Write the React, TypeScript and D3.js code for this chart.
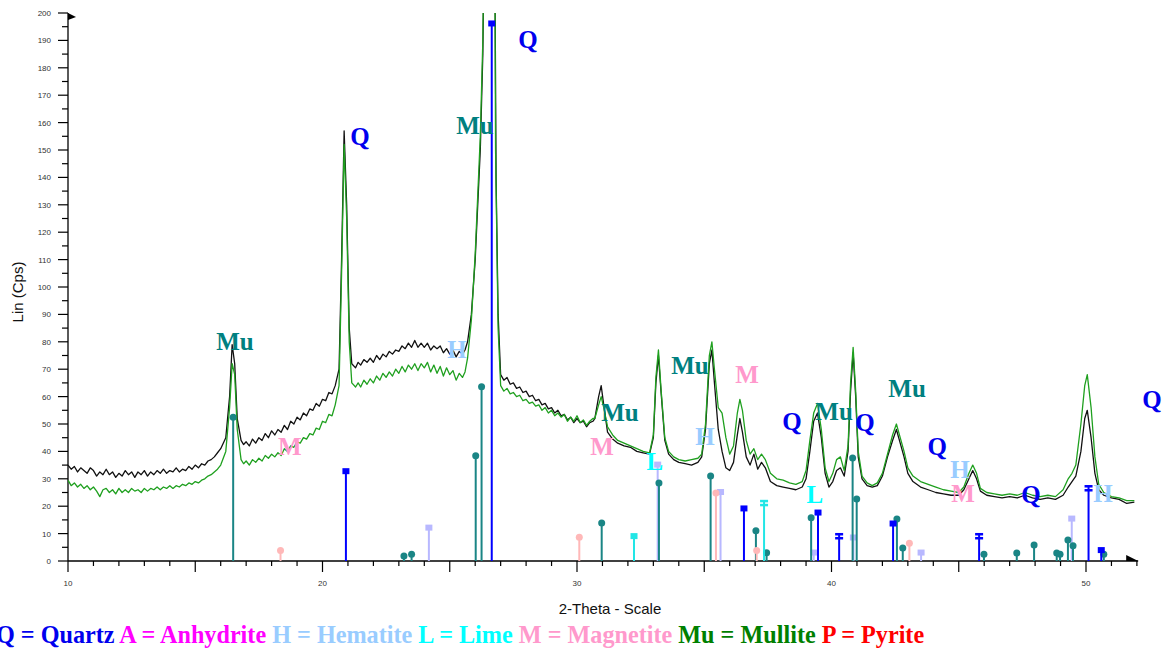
import * as React from "react"
import * as d3 from "d3"

// scan 1 (black) and scan 2 (green): [2-theta, counts]
const blackScan: [number, number][] = [
  [10.0, 35], [10.125, 33.5], [10.25, 34.5], [10.375, 32.5], [10.5, 34], [10.625, 33], [10.75, 32], [10.875, 34],
  [11.0, 33], [11.125, 31], [11.25, 32.5], [11.375, 31.5], [11.5, 33.5], [11.625, 31.5], [11.75, 32.5], [11.875, 30.5],
  [12.0, 32], [12.125, 31], [12.25, 33], [12.375, 31.5], [12.5, 32.5], [12.625, 30.5], [12.75, 32.5], [12.875, 31.5],
  [13.0, 33], [13.125, 31], [13.25, 32.5], [13.375, 31.5], [13.5, 33], [13.625, 32], [13.75, 33.5], [13.875, 32],
  [14.0, 33], [14.125, 32.5], [14.25, 34], [14.375, 32.5], [14.5, 33.5], [14.625, 33], [14.75, 34.5], [14.875, 33.5],
  [15.0, 35], [15.125, 34], [15.25, 35.5], [15.375, 35], [15.5, 36.5], [15.625, 37], [15.75, 38], [15.875, 39.5],
  [16.0, 41], [16.2, 45], [16.35, 60], [16.45, 79], [16.55, 72], [16.65, 52], [16.8, 44], [16.9, 42.5],
  [17.0, 43.5], [17.125, 42], [17.25, 44.5], [17.375, 43], [17.5, 45], [17.625, 44], [17.75, 46.5], [17.875, 45],
  [18.0, 47.5], [18.125, 46], [18.25, 48], [18.375, 47], [18.5, 49.5], [18.625, 48], [18.75, 51], [18.875, 50],
  [19.0, 52.5], [19.125, 51.5], [19.25, 54], [19.375, 53], [19.5, 55.5], [19.625, 55], [19.75, 57.5], [19.875, 56.5],
  [20.0, 59], [20.125, 58.5], [20.25, 61.5], [20.375, 61], [20.5, 64], [20.65, 70], [20.75, 110], [20.85, 157],
  [20.95, 130], [21.05, 85], [21.15, 72], [21.3, 70.5], [21.4, 72.5], [21.5, 71.5], [21.625, 73.5], [21.75, 72.5],
  [21.875, 74], [22.0, 72.5], [22.125, 75], [22.25, 73.5], [22.375, 75.5], [22.5, 74.5], [22.625, 76.5], [22.75, 75.5],
  [22.875, 77], [23.0, 76.5], [23.125, 78.5], [23.25, 77.5], [23.375, 79.5], [23.5, 78], [23.625, 80.5], [23.75, 78],
  [23.875, 79.5], [24.0, 78], [24.125, 79.5], [24.25, 77], [24.375, 78.5], [24.5, 77.5], [24.625, 78.5], [24.75, 76],
  [24.875, 77.5], [25.0, 75.5], [25.125, 77], [25.25, 74.5], [25.375, 76.5], [25.5, 75.5], [25.6, 77], [25.7, 80],
  [25.85, 90], [26.0, 110], [26.2, 150], [26.3, 185], [26.4, 260], [26.55, 420], [26.65, 500], [26.75, 260],
  [26.82, 140], [26.9, 90], [27.0, 68], [27.125, 66], [27.25, 67], [27.375, 64.5], [27.5, 65], [27.625, 63],
  [27.75, 63.5], [27.875, 61.5], [28.0, 62], [28.125, 60], [28.25, 60.5], [28.375, 58.5], [28.5, 59], [28.625, 57],
  [28.75, 57.5], [28.875, 55.5], [29.0, 56], [29.125, 54], [29.25, 55], [29.375, 53], [29.5, 53.5], [29.625, 51.5],
  [29.75, 52.5], [29.875, 50.5], [30.0, 52], [30.125, 50.5], [30.25, 51], [30.375, 49], [30.5, 50.5], [30.625, 51],
  [30.7, 52], [30.85, 60], [30.95, 64], [31.05, 57], [31.2, 47], [31.4, 44.5], [31.6, 43], [31.85, 42],
  [32.1, 41.5], [32.35, 40], [32.6, 39.5], [32.85, 39], [33.0, 45], [33.1, 65], [33.2, 75], [33.3, 62],
  [33.45, 44], [33.6, 39], [33.8, 37], [34.0, 36], [34.25, 35.5], [34.5, 35], [34.75, 36], [34.9, 38],
  [35.05, 48], [35.2, 72], [35.3, 77], [35.4, 65], [35.55, 48], [35.7, 40], [35.85, 34], [36.0, 33],
  [36.15, 36], [36.3, 46], [36.4, 52], [36.5, 47], [36.65, 38], [36.8, 35], [36.95, 39], [37.1, 33.5],
  [37.25, 36], [37.4, 34], [37.6, 29], [37.85, 27.5], [38.1, 27], [38.35, 26.5], [38.6, 26], [38.85, 27],
  [39.0, 30], [39.15, 40], [39.3, 51], [39.45, 54], [39.6, 45], [39.75, 32], [39.9, 27], [40.05, 29],
  [40.2, 33], [40.35, 34], [40.5, 31], [40.65, 40], [40.75, 62], [40.85, 76], [40.95, 60], [41.05, 38],
  [41.2, 30], [41.4, 27.5], [41.6, 27], [41.8, 27.5], [42.0, 31], [42.2, 38], [42.4, 44], [42.55, 48],
  [42.7, 43], [42.85, 38], [43.0, 32], [43.2, 29], [43.5, 27], [43.8, 26], [44.1, 25], [44.4, 24.5],
  [44.7, 24], [45.0, 24], [45.2, 26], [45.4, 30], [45.55, 33], [45.7, 30], [45.85, 25.5], [46.1, 24],
  [46.4, 23.5], [46.7, 23], [47.0, 23.5], [47.3, 23], [47.6, 24], [47.9, 23], [48.2, 22.5], [48.5, 23],
  [48.8, 22.5], [49.1, 24], [49.3, 27], [49.45, 29], [49.6, 31], [49.8, 40], [49.95, 52], [50.05, 55],
  [50.2, 45], [50.35, 32], [50.5, 26], [50.7, 24], [51.0, 23], [51.3, 22.5], [51.6, 21], [51.9, 21.5],
]

const greenScan: [number, number][] = [
  [10.0, 29.5], [10.125, 27.5], [10.25, 28.5], [10.375, 27], [10.5, 28], [10.625, 26.5], [10.75, 27.5], [10.875, 26],
  [11.0, 27], [11.125, 25.5], [11.25, 23.5], [11.375, 26], [11.5, 26.5], [11.625, 25], [11.75, 26], [11.875, 24.5],
  [12.0, 26.5], [12.125, 25], [12.25, 26], [12.375, 25], [12.5, 26.5], [12.625, 25.5], [12.75, 26], [12.875, 25],
  [13.0, 26.5], [13.125, 25.5], [13.25, 26.5], [13.375, 26], [13.5, 27], [13.625, 26], [13.75, 27], [13.875, 26.5],
  [14.0, 27.5], [14.125, 26.5], [14.25, 27.5], [14.375, 27], [14.5, 28], [14.625, 27.5], [14.75, 28.5], [14.875, 28],
  [15.0, 29], [15.125, 28.5], [15.25, 29.5], [15.375, 30], [15.5, 31], [15.625, 31.5], [15.75, 32.5], [15.875, 33.5],
  [16.0, 35], [16.2, 40], [16.35, 56], [16.45, 72], [16.55, 68], [16.65, 48], [16.8, 37], [16.9, 35.5],
  [17.0, 36.5], [17.125, 35], [17.25, 37], [17.375, 36], [17.5, 37.5], [17.625, 36.5], [17.75, 38.5], [17.875, 37.5],
  [18.0, 39], [18.125, 38], [18.25, 39.5], [18.375, 38.5], [18.5, 41], [18.625, 40], [18.75, 42], [18.875, 41.5],
  [19.0, 43.5], [19.125, 43], [19.25, 45], [19.375, 44.5], [19.5, 46.5], [19.625, 46], [19.75, 48.5], [19.875, 48],
  [20.0, 51], [20.125, 50.5], [20.25, 53.5], [20.375, 53], [20.5, 57], [20.65, 64], [20.75, 105], [20.85, 152],
  [20.95, 125], [21.05, 80], [21.15, 65], [21.3, 63.5], [21.4, 65], [21.5, 63.5], [21.625, 66], [21.75, 64.5],
  [21.875, 66.5], [22.0, 65], [22.125, 67.5], [22.25, 66], [22.375, 68.5], [22.5, 67], [22.625, 69], [22.75, 67.5],
  [22.875, 70], [23.0, 68.5], [23.125, 71], [23.25, 69], [23.375, 71.5], [23.5, 70], [23.625, 72], [23.75, 69.5],
  [23.875, 72], [24.0, 70.5], [24.125, 72.5], [24.25, 69], [24.375, 71.5], [24.5, 68.5], [24.625, 71], [24.75, 67.5],
  [24.875, 70.5], [25.0, 68], [25.125, 69.5], [25.25, 66], [25.375, 68.5], [25.5, 67], [25.6, 69], [25.7, 74],
  [25.85, 88], [26.0, 112], [26.2, 155], [26.3, 190], [26.4, 270], [26.55, 450], [26.65, 520], [26.75, 280],
  [26.8, 150], [26.9, 85], [27.0, 64], [27.125, 62], [27.25, 63], [27.375, 61], [27.5, 61.5], [27.625, 60],
  [27.75, 60.5], [27.875, 58.5], [28.0, 59], [28.125, 57.5], [28.25, 58], [28.375, 56.5], [28.5, 57], [28.625, 55],
  [28.75, 56], [28.875, 54], [29.0, 55], [29.125, 53], [29.25, 54], [29.375, 52.5], [29.5, 53.5], [29.625, 51],
  [29.75, 52.5], [29.875, 51], [30.0, 53], [30.125, 50.5], [30.25, 51.5], [30.375, 49.5], [30.5, 51], [30.625, 52],
  [30.7, 52], [30.85, 57], [30.95, 60], [31.05, 56], [31.2, 49], [31.4, 46], [31.6, 44], [31.85, 43],
  [32.1, 42], [32.35, 41], [32.6, 40], [32.85, 39.5], [33.0, 46], [33.1, 67], [33.2, 77], [33.3, 63],
  [33.45, 45], [33.6, 40], [33.8, 38], [34.0, 37], [34.25, 36.5], [34.5, 37], [34.75, 37.5], [34.9, 39],
  [35.05, 50], [35.2, 75], [35.3, 80], [35.4, 70], [35.55, 56], [35.7, 54], [35.85, 45], [36.0, 39],
  [36.15, 42], [36.3, 54], [36.4, 59], [36.5, 55], [36.65, 44], [36.8, 39], [36.95, 41], [37.1, 37],
  [37.25, 39], [37.4, 37], [37.6, 32], [37.85, 30], [38.1, 29.5], [38.35, 28.5], [38.6, 28], [38.85, 29],
  [39.0, 33], [39.15, 44], [39.3, 54], [39.45, 57.5], [39.6, 48], [39.75, 34], [39.9, 29], [40.05, 32],
  [40.2, 37], [40.35, 38], [40.5, 33], [40.65, 42], [40.75, 65], [40.85, 78], [40.95, 62], [41.05, 40],
  [41.2, 31], [41.4, 28.5], [41.6, 27.5], [41.8, 28.5], [42.0, 32], [42.2, 39], [42.4, 46], [42.55, 50],
  [42.7, 45], [42.85, 40], [43.0, 34], [43.2, 31], [43.5, 29], [43.8, 28], [44.1, 27], [44.4, 26],
  [44.7, 25.5], [45.0, 25], [45.2, 27], [45.4, 32], [45.55, 35], [45.7, 32], [45.85, 26.5], [46.1, 25],
  [46.4, 24.5], [46.7, 24], [47.0, 24.5], [47.3, 24], [47.6, 25], [47.9, 24], [48.2, 23.5], [48.5, 24],
  [48.8, 23.5], [49.1, 26], [49.3, 30], [49.45, 32], [49.6, 35], [49.8, 50], [49.95, 64], [50.05, 68],
  [50.2, 56], [50.35, 38], [50.5, 28], [50.7, 25], [51.0, 23.5], [51.3, 23], [51.6, 22], [51.9, 22],
]

// reference patterns: [2-theta, intensity]; a repeated position is a double reflection
const quartzSticks: [number, number][] = [
  [20.92, 32.6], [26.65, 196], [36.56, 19], [39.47, 17.5], [40.3, 9.5], [40.3, 9.5], [42.42, 13.5],
  [45.8, 9.5], [45.8, 9.5], [50.1, 27], [50.1, 27], [50.6, 3.8],
]
const mulliteSticks: [number, number][] = [
  [16.49, 52.5], [23.2, 1.8], [23.5, 2.5], [26.02, 38.4], [26.25, 63.6], [30.97, 13.9], [33.22, 28.5],
  [35.25, 31], [37.03, 11], [37.45, 3], [39.2, 15.8], [40.83, 37.6], [40.99, 22.6], [42.57, 15.3],
  [42.8, 4.7], [45.99, 2.5], [47.28, 2.9], [47.96, 5.8], [48.85, 2.9], [48.98, 2.5], [49.29, 7.7],
  [49.49, 5.6], [50.7, 2.5],
]
const hematiteSticks: [number, number][] = [
  [24.18, 12], [33.17, 35], [35.64, 25], [39.3, 2.9], [40.86, 8.4], [43.52, 2.9], [49.44, 15.3],
]
const limeSticks: [number, number][] = [
  [32.24, 8.9], [37.35, 21.6], [37.35, 21.6],
]
const magnetiteSticks: [number, number][] = [
  [18.35, 3.8], [30.09, 8.7], [35.46, 24.8], [37.06, 3.8], [43.06, 6.5],
]

// peak labels: [text, 2-theta, counts]
const peakLabels: [string, number, number][] = [
  ["Mu", 16.56, 77], ["Q", 21.47, 151.8], ["Mu", 25.99, 155.8], ["Q", 28.07, 187.2], ["H", 25.28, 74],
  ["M", 18.72, 38.7], ["M", 30.98, 38.7], ["Mu", 31.69, 51], ["L", 33.06, 33.2], ["Mu", 34.44, 68.2],
  ["H", 35.03, 42.3], ["M", 36.68, 65], ["Q", 38.45, 47.8], ["L", 39.35, 21.2], ["Mu", 40.1, 51.5],
  ["Q", 41.32, 47.4], ["Mu", 42.97, 59.9], ["Q", 44.15, 38.7], ["H", 45.05, 30.3], ["M", 45.17, 21.5],
  ["Q", 47.84, 21.2], ["H", 50.67, 21.5], ["Q", 52.59, 55.8],
]

const legendItems: [string, string][] = [
  ["Q = Quartz", "#0000ee"], ["A = Anhydrite", "#ff00ff"], ["H = Hematite", "#99ccff"],
  ["L = Lime", "#00ffff"], ["M = Magnetite", "#ff99cc"], ["Mu = Mullite", "#008000"], ["P = Pyrite", "#ff0000"],
]

const labelColor: Record<string, string> = {
  Q: "#0000ee", Mu: "#008080", H: "#99ccff", L: "#00ffff", M: "#ff99cc",
}

const phases = [
  { sticks: hematiteSticks, color: "#b8b8ff", marker: "square" },
  { sticks: mulliteSticks, color: "#1a8585", marker: "circle" },
  { sticks: magnetiteSticks, color: "#ffb8b8", marker: "circle" },
  { sticks: limeSticks, color: "#22e6e6", marker: "square" },
  { sticks: quartzSticks, color: "#0000ff", marker: "square" },
]

export default function App() {
  const width = 1166
  const height = 650
  const x = d3.scaleLinear().domain([10, 50]).range([68, 1086])
  const y = d3.scaleLinear().domain([0, 200]).range([561, 13])
  const xEnd = x(52.05)

  const line = d3.line<[number, number]>()
    .x((d) => x(d[0]))
    .y((d) => y(d[1]))

  const yTicks = d3.range(0, 201, 5)
  const xTicks = d3.range(10, 53, 1)

  return (
    <svg width={width} height={height} style={{ position: "absolute", left: 0, top: 0, background: "#fff" }}
      fontFamily="Arial, 'Liberation Sans', sans-serif">
      <defs>
        <clipPath id="plot">
          <rect x={x(10)} y={y(200)} width={xEnd - x(10)} height={y(0) - y(200)} />
        </clipPath>
      </defs>

      {/* y axis */}
      <line x1={x(10)} x2={x(10)} y1={y(0)} y2={y(200)} stroke="#000" strokeWidth={1.3} />
      <path d={`M${x(10)},${y(200)} l8,4 l-8,3 z`} fill="#000" />
      {yTicks.map((t) => (
        <g key={"y" + t}>
          <line x1={x(10) - (t % 10 === 0 ? 10 : 6)} x2={x(10)} y1={y(t)} y2={y(t)} stroke="#000" strokeWidth={1.2} />
          {t % 10 === 0 && (
            <text x={51} y={y(t) + 3} fontSize={8} textAnchor="end" fill="#333">{t}</text>
          )}
        </g>
      ))}

      {/* x axis */}
      <line x1={x(10)} x2={xEnd} y1={y(0)} y2={y(0)} stroke="#000" strokeWidth={1.3} />
      <path d={`M${xEnd},${y(0)} l-12,0 l0,-6 z`} fill="#000" />
      {xTicks.map((t) => (
        <g key={"x" + t}>
          <line x1={x(t)} x2={x(t)} y1={y(0)} y2={y(0) + (t % 5 === 0 ? 11 : 5)} stroke="#000" strokeWidth={1.2} />
          {t % 10 === 0 && (
            <text x={x(t)} y={y(0) + 25} fontSize={8} textAnchor="middle" fill="#333">{t}</text>
          )}
        </g>
      ))}

      <text x={610} y={614} fontSize={15} textAnchor="middle" fill="#111">2-Theta - Scale</text>
      <text transform={`translate(23,${292}) rotate(-90)`} fontSize={15} textAnchor="middle" fill="#111">Lin (Cps)</text>

      {/* scans */}
      <g clipPath="url(#plot)" fill="none">
        <path d={line(blackScan) ?? ""} stroke="#111" strokeWidth={1.3} strokeLinejoin="round" />
        <path d={line(greenScan) ?? ""} stroke="#1fa01f" strokeWidth={1.3} strokeLinejoin="round" />
      </g>

      {/* reference sticks */}
      {phases.map((p, pi) => {
        const counts = d3.rollup(p.sticks, (v) => v.length, (d) => d[0])
        const unique = Array.from(new Map(p.sticks.map((d) => [d[0], d])).values())
        return (
          <g key={"p" + pi}>
            {unique.map((d, i) => {
              const cx = x(d[0])
              const top = y(d[1])
              const dbl = (counts.get(d[0]) ?? 1) > 1
              return (
                <g key={i}>
                  <line x1={cx} x2={cx} y1={y(0)} y2={top} stroke={p.color} strokeWidth={2} />
                  {dbl ? (
                    <g fill={p.color}>
                      <rect x={cx - 4} y={top - 2} width={8} height={2.5} />
                      <rect x={cx - 4} y={top + 2} width={8} height={2.5} />
                    </g>
                  ) : p.marker === "square" ? (
                    <rect x={cx - 3.5} y={top - 3.5} width={7} height={6} fill={p.color} />
                  ) : (
                    <circle cx={cx} cy={top} r={3.5} fill={p.color} />
                  )}
                </g>
              )
            })}
          </g>
        )
      })}

      {/* peak labels */}
      <g fontFamily="'Liberation Serif', 'Times New Roman', serif" fontWeight="bold" fontSize={25} textAnchor="middle">
        {peakLabels.map(([t, a, b], i) => (
          <text key={"l" + i} x={x(a)} y={y(b)} fill={labelColor[t]}>{t}</text>
        ))}
      </g>

      {/* legend */}
      <text x={-4} y={643} fontFamily="'Liberation Serif', 'Times New Roman', serif" fontWeight="bold" fontSize={24.2}>
        {legendItems.map(([t, c], i) => (
          <tspan key={"g" + i} fill={c}>{(i > 0 ? " " : "") + t}</tspan>
        ))}
      </text>
    </svg>
  )
}
